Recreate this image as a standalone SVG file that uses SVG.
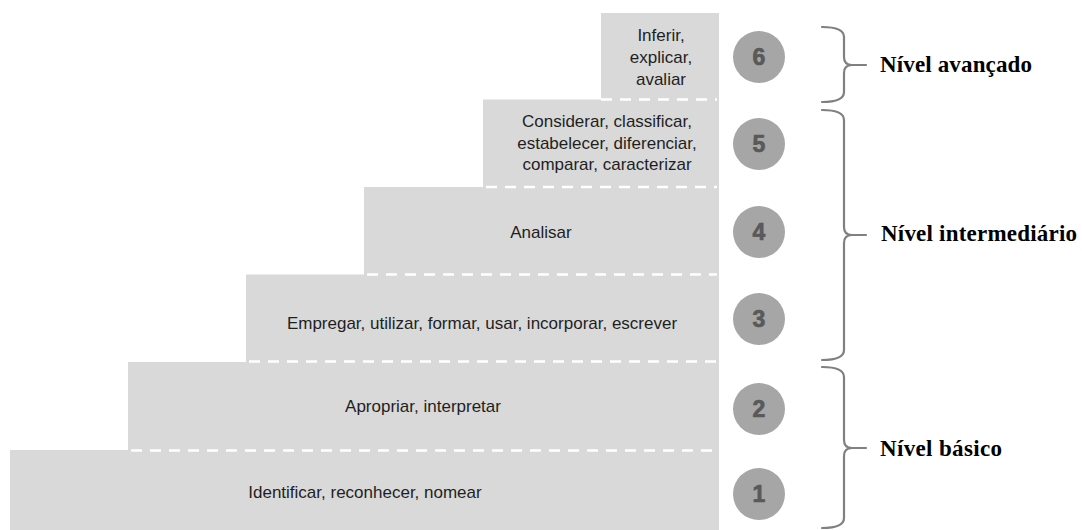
<svg xmlns="http://www.w3.org/2000/svg" width="1082" height="530" viewBox="0 0 1082 530">
<defs>
<style>
.step{fill:#d9d9d9;}
.dash{stroke:#ffffff;stroke-width:2.5;stroke-dasharray:11 8;fill:none;}
.lbl{font-family:"Liberation Sans",Arial,sans-serif;font-size:17px;fill:#1f1f1f;text-anchor:middle;}
.circ{fill:#a6a6a6;}
.num{font-family:"Liberation Sans",Arial,sans-serif;font-size:23px;font-weight:bold;fill:#595959;stroke:#595959;stroke-width:0.7;text-anchor:middle;}
.brace{fill:none;stroke:#808080;stroke-width:2.2;stroke-linecap:round;stroke-linejoin:round;}
.lvl{font-family:"Liberation Serif","Times New Roman",serif;font-size:23px;font-weight:bold;fill:#000000;}
</style>
</defs>
<rect width="1082" height="530" fill="#ffffff"/>

<g id="step1">
<rect class="step" x="10" y="450" width="709" height="80"/>
<text class="lbl" x="365" y="498">Identificar, reconhecer, nomear</text>
</g>
<g id="step2">
<rect class="step" x="128" y="362" width="591" height="88"/>
<text class="lbl" x="423" y="412">Apropriar, interpretar</text>
<line class="dash" x1="131" y1="450.5" x2="717" y2="450.5"/>
</g>
<g id="step3">
<rect class="step" x="246" y="274.5" width="473" height="88"/>
<text class="lbl" x="482" y="329">Empregar, utilizar, formar, usar, incorporar, escrever</text>
<line class="dash" x1="249" y1="361.5" x2="717" y2="361.5"/>
</g>
<g id="step4">
<rect class="step" x="364" y="187" width="355" height="88"/>
<text class="lbl" x="541" y="238">Analisar</text>
<line class="dash" x1="367" y1="274.5" x2="717" y2="274.5"/>
</g>
<g id="step5">
<rect class="step" x="483" y="99.5" width="236" height="88"/>
<text class="lbl" x="607" y="127">Considerar, classificar,</text>
<text class="lbl" x="607" y="148.5">estabelecer, diferenciar,</text>
<text class="lbl" x="607" y="170">comparar, caracterizar</text>
<line class="dash" x1="486" y1="187" x2="717" y2="187"/>
</g>
<g id="step6">
<rect class="step" x="601" y="13" width="118" height="87"/>
<text class="lbl" x="661" y="41">Inferir,</text>
<text class="lbl" x="661" y="63">explicar,</text>
<text class="lbl" x="661" y="85">avaliar</text>
<line class="dash" x1="601" y1="99.5" x2="717" y2="99.5"/>
</g>

<g id="badge6"><circle class="circ" cx="759" cy="57" r="26"/><text class="num" x="759" y="65">6</text></g>
<g id="badge5"><circle class="circ" cx="759" cy="144" r="26"/><text class="num" x="759" y="152">5</text></g>
<g id="badge4"><circle class="circ" cx="759" cy="232" r="26"/><text class="num" x="759" y="240">4</text></g>
<g id="badge3"><circle class="circ" cx="759" cy="319" r="26"/><text class="num" x="759" y="327">3</text></g>
<g id="badge2"><circle class="circ" cx="759" cy="409" r="26"/><text class="num" x="759" y="417">2</text></g>
<g id="badge1"><circle class="circ" cx="759" cy="494" r="26"/><text class="num" x="759" y="502">1</text></g>

<g id="connectors">
<path class="brace" d="M822,27 Q844,27 844,37 L844,57 Q844,65 852,65 L866,65 M852,65 Q844,65 844,73 L844,92 Q844,102 822,102"/>
<path class="brace" d="M822,110 Q844,110 844,120 L844,227 Q844,235 852,235 L866,235 M852,235 Q844,235 844,243 L844,350 Q844,360 822,360"/>
<path class="brace" d="M822,367 Q844,367 844,377 L844,440 Q844,448 852,448 L866,448 M852,448 Q844,448 844,456 L844,518 Q844,528 822,528"/>
</g>

<g id="level-avancado"><text class="lvl" x="880" y="72" textLength="152">Nível avançado</text></g>
<g id="level-intermediario"><text class="lvl" x="881" y="241" textLength="196">Nível intermediário</text></g>
<g id="level-basico"><text class="lvl" x="880" y="456" textLength="122">Nível básico</text></g>
</svg>
